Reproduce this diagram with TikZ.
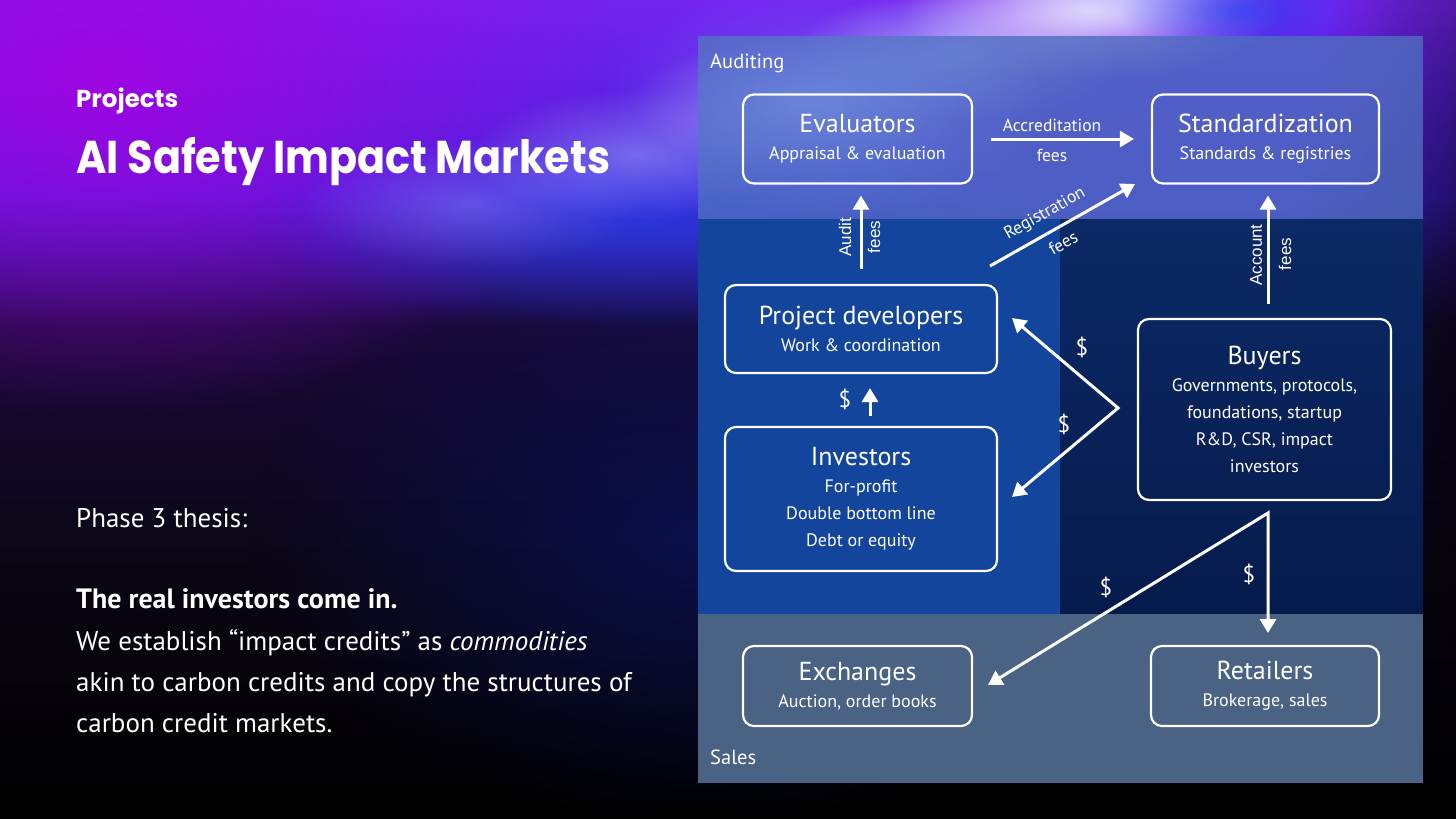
\documentclass[tikz,border=0pt]{standalone}
\usepackage{fontspec}
\setmainfont{PT Sans}
\newfontfamily\headfont{Poppins}
\newfontfamily\arialfont{Liberation Sans}
\usetikzlibrary{arrows.meta,fadings}
\tikzfading[name=softblob, inner color=transparent!0, outer color=transparent!100]
\definecolor{bandtop}{HTML}{4F6EC0}
\definecolor{midL}{HTML}{13459D}
\definecolor{midRa}{HTML}{0B2966}
\definecolor{midRb}{HTML}{061B4C}
\definecolor{bandbot}{HTML}{4A6284}
\definecolor{bgpurple}{HTML}{A800E0}
\definecolor{bgA}{HTML}{7424F0}
\definecolor{bgB}{HTML}{4420D8}
\definecolor{bgC}{HTML}{180A38}
\definecolor{bgD}{HTML}{0A0512}
\definecolor{bgblue}{HTML}{2244F0}
\definecolor{bgnavy}{HTML}{0A1460}
\definecolor{streak}{HTML}{C4CCFF}
\definecolor{glow}{HTML}{8CB4FF}
\pgfdeclareverticalshading{bgv}{100bp}{color(0bp)=(black); color(25bp)=(black); color(40bp)=(bgD); color(55bp)=(bgC); color(63bp)=(bgB); color(75bp)=(bgA); color(100bp)=(bgA)}
\newcommand\bxtitle[1]{{\fontsize{26}{27}\selectfont #1}}
\begin{document}
\begin{tikzpicture}[x=1pt,y=-1pt,
  box/.style={draw=white, line width=2.2pt, rounded corners=11pt, text=white, align=center, inner sep=0pt, font=\fontsize{18}{27}\selectfont},
  arr/.style={draw=white, line width=3pt, -{Triangle[length=14pt,width=16pt]}},
  darr/.style={draw=white, line width=3pt, line join=miter, {Triangle[length=14pt,width=16pt]}-{Triangle[length=14pt,width=16pt]}},
  lbl/.style={text=white, inner sep=0pt, font=\fontsize{17.5}{20}\selectfont},
  vlbl/.style={text=white, inner sep=0pt, font=\arialfont\fontsize{17}{20}\selectfont, rotate=90},
  dol/.style={text=white, inner sep=0pt, font=\fontsize{23}{24}\selectfont},
  sec/.style={text=white, inner sep=0pt, anchor=base west, font=\fontsize{20.5}{22}\selectfont},
  body/.style={text=white, inner sep=0pt, anchor=base west, font=\fontsize{27}{30}\selectfont},
  blob/.style={path fading=softblob},
]
\useasboundingbox (0,0) rectangle (1456,819);
% background
\shade[shading=bgv] (0,0) rectangle (1456,819);
\fill[bgpurple, opacity=0.85, blob] (-420,-260) rectangle (620,420);
\fill[bgnavy, opacity=0.7, blob] (250,260) rectangle (1150,820);
\fill[bgblue, opacity=0.6, blob] (250,120) rectangle (1050,330);
\fill[streak, opacity=0.25, blob] (300,140) rectangle (640,270);
\fill[streak, opacity=0.4, blob] (470,90) rectangle (800,220);
\fill[streak, opacity=0.55, blob] (630,40) rectangle (960,170);
\fill[streak, opacity=0.75, blob] (790,-10) rectangle (1120,120);
\fill[white, opacity=0.85, blob] (900,-60) rectangle (1280,80);
\fill[streak, opacity=0.6, blob] (1000,-40) rectangle (1250,40);
\fill[bgblue, opacity=0.7, blob] (1120,-40) rectangle (1360,60);
\fill[black, opacity=0.85, blob] (1290,-250) rectangle (1800,900);
% panel
\fill[midL] (698,219) rectangle (1060,614);
\shade[top color=midRa, bottom color=midRb] (1060,219) rectangle (1423,614);
\fill[bandtop, opacity=0.8] (698,36) rectangle (1423,219);
\fill[glow, opacity=0.3, blob] (600,-20) rectangle (1050,220);
\fill[bandbot] (698,614) rectangle (1423,783);
\node[sec] (aud) at (710,68) {Auditing};
\node[sec] (sal) at (710,764) {Sales};
% boxes
\node[box, minimum width=229, minimum height=89] (eva) at (857.5,139) {\bxtitle{Evaluators}\\Appraisal \& evaluation};
\node[box, minimum width=227, minimum height=89] (std) at (1265.5,139) {\bxtitle{Standardization}\\Standards \& registries};
\node[box, minimum width=272, minimum height=88] (pd) at (861,329) {\bxtitle{Project developers}\\Work \& coordination};
\node[box, minimum width=272, minimum height=144] (inv) at (861,499) {\bxtitle{Investors}\\For-profit\\Double bottom line\\Debt or equity};
\node[box, minimum width=253, minimum height=181] (buy) at (1264.5,409.5) {\bxtitle{Buyers}\\Governments, protocols,\\foundations, startup\\R\&D, CSR, impact\\investors};
\node[box, minimum width=229, minimum height=80] (exc) at (857.5,686) {\bxtitle{Exchanges}\\Auction, order books};
\node[box, minimum width=228, minimum height=80] (ret) at (1265,686) {\bxtitle{Retailers}\\Brokerage, sales};
% arrows
\draw[arr, shorten <=18pt, shorten >=17pt] (eva.east) -- (std.west);
\node[lbl] (accl) at (1052,125) {Accreditation};
\node[lbl] (accf) at (1052,155) {fees};
\draw[arr, shorten <=15pt, shorten >=11pt] (pd.north) -- (pd.north |- eva.south);
\node[vlbl] (audl) at (845,237) {Audit};
\node[vlbl] (audf) at (874,237) {fees};
\coordinate (rs) at (990,266);
\coordinate (re) at (1135,184);
\draw[arr] (rs) -- (re);
\node[lbl, rotate=29.5] (regl) at (1045,214) {Registration};
\node[lbl, rotate=29.5] (regf) at (1063,243) {fees};
\draw[arr, shorten <=14pt, shorten >=11pt] ([xshift=3.5pt]buy.north) -- ([xshift=3.5pt]buy.north |- std.south);
\node[vlbl] (accn) at (1256,255) {Account};
\node[vlbl] (accnf) at (1285,254) {fees};
\draw[arr, shorten <=10pt, shorten >=14pt] ([xshift=9pt]inv.north) -- ([xshift=9pt]inv.north |- pd.south);
\node[dol] (d1) at (845,399) {\$};
\coordinate (zt) at (1012,318);
\coordinate (bz) at (1118,408);
\coordinate (zb) at (1012,497);
\draw[darr] (zt) -- (bz) -- (zb);
\node[dol] (d2) at (1082,347) {\$};
\node[dol] (d3) at (1064,424) {\$};
\coordinate (xt) at (988,685);
\coordinate (bb) at (1268,513);
\coordinate (rt) at (1268,633);
\draw[darr] (xt) -- (bb) -- (rt);
\node[dol] (d4) at (1249,574) {\$};
\node[dol] (d5) at (1106,587) {\$};
% left text
\node[text=white, anchor=base west, inner sep=0pt, font=\headfont\bfseries\fontsize{24.5}{26}\selectfont] (proj) at (76,107) {Projects};
\node[text=white, anchor=base west, inner sep=0pt] (title) at (76,173) {\resizebox{534pt}{\height}{\headfont\bfseries\fontsize{46}{50}\selectfont AI Safety Impact Markets}};
\node[body] (ph) at (76,527) {Phase 3 thesis:};
\node[body, font=\bfseries\fontsize{28}{30}\selectfont] (l1) at (76,608) {The real investors come in.};
\node[body] (l2) at (76,650) {We establish “impact credits” as \textit{commodities}};
\node[body] (l3) at (76,691) {akin to carbon credits and copy the structures of};
\node[body] (l4) at (76,732) {carbon credit markets.};
\end{tikzpicture}
\end{document}
